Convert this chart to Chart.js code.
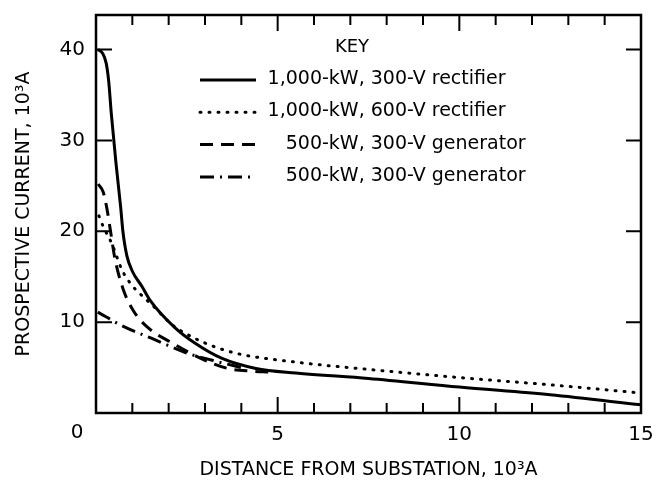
<!DOCTYPE html>
<html>
<head>
<meta charset="utf-8">
<script src="https://cdn.jsdelivr.net/npm/chart.js@4/dist/chart.umd.min.js"></script>
<style>
  html, body { margin: 0; padding: 0; background: #fff; }
</style>
</head>
<body>
<canvas id="chart" width="664" height="486"></canvas>
<script>
// Prospective current vs distance from substation

const seriesLabels = [
  '1,000-kW, 300-V rectifier',
  '1,000-kW, 600-V rectifier',
  '500-kW, 300-V generator',
  '500-kW, 300-V generator'
];

// distance (10^3) / current (10^3 A) per curve
const rect300Dist = [0.05, 0.18, 0.28, 0.35, 0.42, 0.55, 0.68, 0.74, 0.85, 1.0, 1.27, 1.49, 2.17, 2.72, 3.47, 4.4, 5.5, 7.5, 10, 12.5, 15];
const rect300Amps = [40, 39.6, 38.5, 36.5, 33, 27.5, 22.6, 20, 17.3, 15.6, 13.9, 12.4, 9.4, 7.7, 6.0, 4.9, 4.4, 3.8, 2.85, 2.0, 0.9];

const rect600Dist = [0.08, 0.19, 0.44, 0.72, 1.0, 1.27, 1.54, 2.1, 2.4, 3.0, 3.83, 5.5, 7.5, 10, 12.5, 15];
const rect600Amps = [21.7, 20.6, 18.6, 15.7, 14.0, 12.9, 11.9, 9.7, 8.9, 7.7, 6.6, 5.6, 4.8, 3.9, 3.1, 2.2];

const genADist = [0.06, 0.2, 0.3, 0.4, 0.52, 0.75, 1.02, 1.4, 2.1, 3.0, 3.63, 4.3, 4.75];
const genAAmps = [25.2, 24.3, 22.5, 20, 17, 13.6, 11.3, 9.5, 7.7, 5.8, 4.9, 4.6, 4.5];

const genBDist = [0.05, 0.72, 1.54, 2.5, 3.2, 4.1];
const genBAmps = [11.1, 9.6, 8.2, 6.6, 5.8, 4.9];

const xTicks = [0, 5, 10, 15];
const yTicks = [10, 20, 30, 40];

const FONT = "'DejaVu Sans', sans-serif";

function toPoints(xs, ys) {
  return xs.map((x, i) => ({ x, y: ys[i] }));
}

const lineStyles = [
  { dash: [], width: 3, cap: 'butt' },
  { dash: [1, 8], width: 3, cap: 'round' },
  { dash: [13, 8], width: 3, cap: 'butt' },
  { dash: [14, 6, 2, 6], width: 3, cap: 'butt' }
];

const curves = [
  toPoints(rect300Dist, rect300Amps),
  toPoints(rect600Dist, rect600Amps),
  toPoints(genADist, genAAmps),
  toPoints(genBDist, genBAmps)
];

// frame, inward ticks, corner zero and the KEY block
const decorations = {
  id: 'decorations',
  afterDatasetsDraw(chart) {
    const { ctx, chartArea: a } = chart;
    const xs = chart.scales.x;
    const ys = chart.scales.y;

    ctx.save();
    ctx.strokeStyle = '#000';
    ctx.lineWidth = 2;
    ctx.beginPath();
    for (let v = 1; v < 15; v++) {
      const px = xs.getPixelForValue(v);
      const len = v % 5 === 0 ? 16 : 10;
      ctx.moveTo(px, a.bottom);
      ctx.lineTo(px, a.bottom - len);
      ctx.moveTo(px, a.top);
      ctx.lineTo(px, a.top + len);
    }
    yTicks.forEach((v) => {
      const py = ys.getPixelForValue(v);
      ctx.moveTo(a.left, py);
      ctx.lineTo(a.left + 16, py);
      ctx.moveTo(a.right, py);
      ctx.lineTo(a.right - 15, py);
    });
    ctx.stroke();

    ctx.lineWidth = 2.5;
    ctx.strokeRect(a.left, a.top, a.right - a.left, a.bottom - a.top);

    ctx.fillStyle = '#000';
    ctx.font = `20px ${FONT}`;
    ctx.textAlign = 'center';
    ctx.textBaseline = 'middle';
    ctx.fillText('0', xs.getPixelForValue(0) - 19, ys.getPixelForValue(0) + 20);

    // key
    ctx.font = `18px ${FONT}`;
    ctx.fillText('KEY', 352, 47);

    ctx.font = `19px ${FONT}`;
    seriesLabels.forEach((label, i) => {
      const y = 80 + i * 32.3;
      const st = lineStyles[i];
      ctx.lineWidth = st.width;
      ctx.lineCap = st.cap;
      ctx.setLineDash(st.dash);
      ctx.beginPath();
      ctx.moveTo(200, y);
      ctx.lineTo(256, y);
      ctx.stroke();
      ctx.setLineDash([]);
      ctx.lineCap = 'butt';

      const cut = label.indexOf('-kW');
      ctx.textAlign = 'right';
      ctx.fillText(label.slice(0, cut), 322, y - 1);
      ctx.textAlign = 'left';
      ctx.fillText(label.slice(cut), 322, y - 1);
    });
    ctx.restore();
  }
};

const ctx = document.getElementById('chart').getContext('2d');

new Chart(ctx, {
  type: 'scatter',
  data: {
    datasets: curves.map((data, i) => ({
      label: seriesLabels[i],
      data,
      showLine: true,
      borderColor: '#000',
      borderWidth: lineStyles[i].width,
      borderDash: lineStyles[i].dash,
      borderCapStyle: lineStyles[i].cap,
      pointRadius: 0,
      cubicInterpolationMode: 'monotone',
      fill: false
    }))
  },
  options: {
    responsive: false,
    animation: false,
    devicePixelRatio: 1,
    layout: { padding: { top: 13, right: 23, left: 0, bottom: 0 } },
    plugins: {
      legend: { display: false },
      tooltip: { enabled: false }
    },
    scales: {
      x: {
        type: 'linear',
        min: 0,
        max: 15,
        afterFit(scale) { scale.height = 73; },
        afterBuildTicks(scale) { scale.ticks = xTicks.map(value => ({ value })); },
        grid: { display: false },
        border: { display: false },
        ticks: {
          color: '#000',
          font: { family: FONT, size: 20 },
          padding: 2,
          callback: v => (v === 0 ? '' : v)
        },
        title: {
          display: true,
          text: 'DISTANCE FROM SUBSTATION, 10³A',
          color: '#000',
          font: { family: FONT, size: 19 },
          padding: { top: 0, bottom: 5 }
        }
      },
      y: {
        min: 0,
        max: 43.8,
        afterFit(scale) { scale.width = 96; },
        afterBuildTicks(scale) { scale.ticks = yTicks.map(value => ({ value })); },
        grid: { display: false },
        border: { display: false },
        ticks: {
          color: '#000',
          font: { family: FONT, size: 20 },
          padding: 3
        },
        title: {
          display: true,
          text: 'PROSPECTIVE CURRENT, 10³A',
          color: '#000',
          font: { family: FONT, size: 19 },
          padding: { top: 13, bottom: 0 }
        }
      }
    }
  },
  plugins: [decorations]
});
</script>
</body>
</html>
